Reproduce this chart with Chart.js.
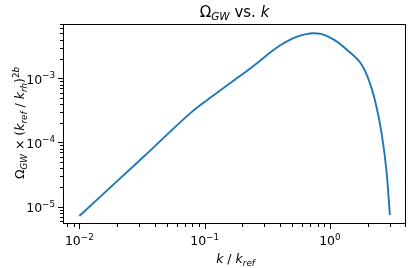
<!DOCTYPE html>
<html>
<head>
<meta charset="utf-8">
<script src="https://cdn.jsdelivr.net/npm/chart.js@4/dist/chart.umd.min.js"></script>
<style>
  html, body { margin: 0; padding: 0; background: #fff; }
  #wrap { width: 416px; height: 268px; position: relative; }
</style>
</head>
<body>
<div id="wrap"><canvas id="chartOmega"></canvas></div>
<script>
// values
const kValues = [0.01, 0.0334, 0.0763, 0.1038, 0.1407, 0.1912, 0.2298, 0.2678, 0.3319, 0.399, 0.4795, 0.5423, 0.6316, 0.7359, 0.8475, 0.969, 1.165, 1.359, 1.791, 2.022, 2.287, 2.587, 2.835, 3.012];
const omegaValues = [7.16e-6, 6.27e-5, 2.82e-4, 4.53e-4, 7.01e-4, 1.086e-3, 1.41e-3, 1.776e-3, 2.51e-3, 3.25e-3, 3.98e-3, 4.42e-3, 4.83e-3, 5.04e-3, 4.93e-3, 4.46e-3, 3.61e-3, 2.81e-3, 1.64e-3, 1.0e-3, 4.59e-4, 1.39e-4, 3.47e-5, 7.43e-6];

const xMajorTicks = [0.01, 0.1, 1];
const yMajorTicks = [1e-5, 1e-4, 1e-3];
const minorSteps = [2, 3, 4, 5, 6, 7, 8, 9];

const xRange = [0.00741, 4.05];
const yRange = [5.37e-6, 7.02e-3];

const FONT = '"DejaVu Sans", sans-serif';

function esMayor(v) {
  const l = Math.log10(v);
  return Math.abs(l - Math.round(l)) < 1e-9;
}

// major decades + 2..9 minors inside the axis range
function listaTicks(rango) {
  const out = [];
  const e0 = Math.floor(Math.log10(rango[0]));
  const e1 = Math.ceil(Math.log10(rango[1]));
  for (let e = e0; e <= e1; e++) {
    const base = Math.pow(10, e);
    [1].concat(minorSteps).forEach(m => {
      const v = m * base;
      if (v >= rango[0] && v <= rango[1]) out.push({ value: v });
    });
  }
  return out;
}

// draws a small mathtext-like string: [text, style]
function dibujarMath(c, partes, size, align) {
  const piezas = partes.map(([t, st]) => {
    const small = st.startsWith("sub") || st.startsWith("sup");
    const fs = small ? size * 0.7 : size;
    const font = (st.endsWith("i") ? "italic " : "") + fs + "px " + FONT;
    c.font = font;
    const dy = st.startsWith("sub") ? size * 0.2 : st.startsWith("sup") ? -size * 0.42 : 0;
    return { t, font, dy, w: c.measureText(t).width };
  });
  const total = piezas.reduce((s, p) => s + p.w, 0);
  let x = align === "right" ? -total : -total / 2;
  c.textAlign = "left";
  c.textBaseline = "alphabetic";
  piezas.forEach(p => {
    c.font = p.font;
    c.fillText(p.t, x, p.dy);
    x += p.w;
  });
}

function partesPotencia(v) {
  return [["10", ""], [String(Math.round(Math.log10(v))).replace("-", "\u2212"), "sup"]];
}

const marcoPlugin = {
  id: "marco",
  afterDraw(chart) {
    const c = chart.ctx;
    const a = chart.chartArea;
    const xs = chart.scales.x, ys = chart.scales.y;
    c.save();
    c.strokeStyle = "#000";
    c.fillStyle = "#000";

    // tick marks
    listaTicks(xRange).forEach(t => {
      const px = Math.round(xs.getPixelForValue(t.value)) + 0.5;
      const mayor = esMayor(t.value);
      c.lineWidth = 1;
      c.beginPath();
      c.moveTo(px, a.bottom);
      c.lineTo(px, a.bottom + (mayor ? 5 : 3));
      c.stroke();
    });
    listaTicks(yRange).forEach(t => {
      const py = Math.round(ys.getPixelForValue(t.value)) + 0.5;
      const mayor = esMayor(t.value);
      c.lineWidth = 1;
      c.beginPath();
      c.moveTo(a.left, py);
      c.lineTo(a.left - (mayor ? 5 : 3), py);
      c.stroke();
    });

    // frame
    c.lineWidth = 1;
    c.strokeRect(a.left + 0.5, a.top + 0.5, a.right - a.left - 1, a.bottom - a.top - 1);

    // tick labels
    xMajorTicks.forEach(v => {
      c.save();
      c.translate(xs.getPixelForValue(v), 245);
      dibujarMath(c, partesPotencia(v), 12.5, "center");
      c.restore();
    });
    yMajorTicks.forEach(v => {
      c.save();
      c.translate(a.left - 8, ys.getPixelForValue(v) + 5.2);
      dibujarMath(c, partesPotencia(v), 12.5, "right");
      c.restore();
    });

    // title
    c.save();
    c.translate((a.left + a.right) / 2, 16.7);
    dibujarMath(c, [["\u03A9", ""], ["GW", "subi"], [" vs. ", ""], ["k", "i"]], 15, "center");
    c.restore();

    // x label
    c.save();
    c.translate((a.left + a.right) / 2 + 1, 263);
    dibujarMath(c, [["k", "i"], [" / ", ""], ["k", "i"], ["ref", "subi"]], 12.5, "center");
    c.restore();

    // y label
    c.save();
    c.translate(24, (a.top + a.bottom) / 2 - 1);
    c.rotate(-Math.PI / 2);
    dibujarMath(c, [["\u03A9", ""], ["GW", "subi"], [" \u00D7 ", ""], ["(", ""], ["k", "i"], ["ref", "subi"],
      [" / ", ""], ["k", "i"], ["rh", "subi"], [")", ""], ["2", "sup"], ["b", "supi"]], 12.5, "center");
    c.restore();

    c.restore();
  }
};

new Chart(document.getElementById("chartOmega").getContext("2d"), {
  type: "line",
  data: {
    datasets: [{
      data: kValues.map((k, i) => ({ x: k, y: omegaValues[i] })),
      borderColor: "#1f77b4",
      borderWidth: 1.9,
      pointRadius: 0,
      fill: false,
      cubicInterpolationMode: "monotone"
    }]
  },
  options: {
    responsive: true,
    maintainAspectRatio: false,
    animation: false,
    layout: { padding: { left: 0, right: 10, top: 24, bottom: 0 } },
    plugins: {
      legend: { display: false },
      title: { display: false },
      tooltip: { enabled: false }
    },
    scales: {
      x: {
        type: "logarithmic",
        min: xRange[0],
        max: xRange[1],
        afterFit: s => { s.height = 44; },
        grid: { display: false, drawTicks: false },
        border: { display: false },
        ticks: { display: false }
      },
      y: {
        type: "logarithmic",
        min: yRange[0],
        max: yRange[1],
        afterFit: s => { s.width = 63; },
        grid: { display: false, drawTicks: false },
        border: { display: false },
        ticks: { display: false }
      }
    }
  },
  plugins: [marcoPlugin]
});
</script>
</body>
</html>
